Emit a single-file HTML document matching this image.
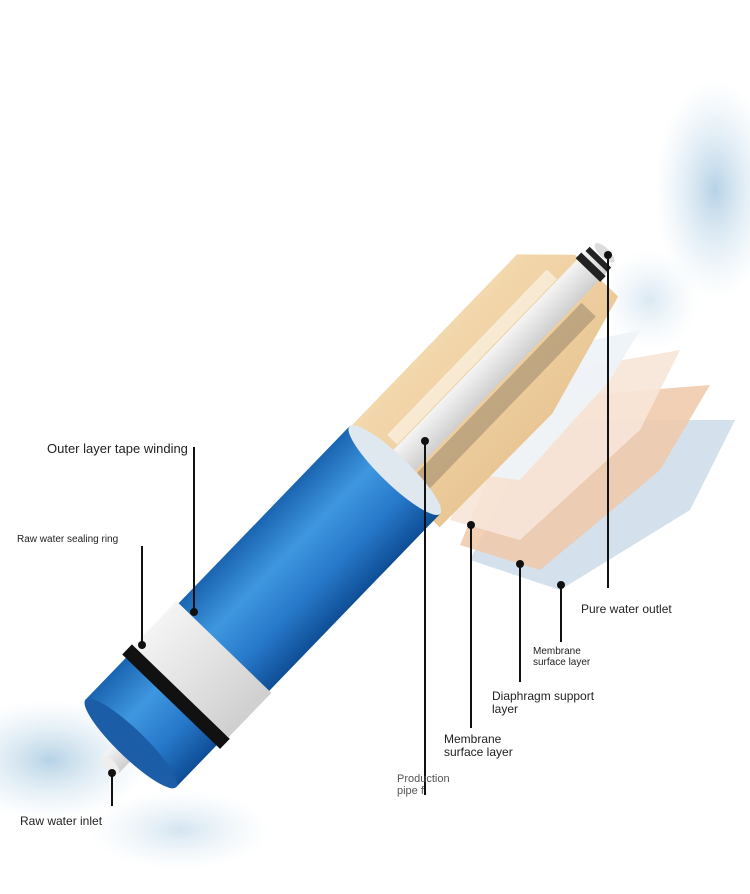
<!DOCTYPE html>
<html><head><meta charset="utf-8"><style>
html,body{margin:0;padding:0;background:#fff}
.t{position:absolute;font-family:"Liberation Sans",sans-serif;color:#222;line-height:1.05}
.g{color:#555}
</style></head><body>
<div style="position:relative;width:750px;height:894px;overflow:hidden">
<svg width="750" height="894" style="position:absolute;left:0;top:0">
<defs>
<linearGradient id="blue" x1="0" y1="0" x2="0" y2="1">
<stop offset="0" stop-color="#1a64b0"/><stop offset="0.35" stop-color="#3f97e0"/><stop offset="0.7" stop-color="#2677c8"/><stop offset="1" stop-color="#0f4e96"/></linearGradient>
<linearGradient id="tan" x1="0" y1="0" x2="0" y2="1">
<stop offset="0" stop-color="#f3d8ad"/><stop offset="1" stop-color="#e9c694"/></linearGradient>
<linearGradient id="wp" x1="0" y1="0" x2="0" y2="1">
<stop offset="0" stop-color="#f4f4f4"/><stop offset="0.5" stop-color="#e2e2e2"/><stop offset="1" stop-color="#cfcfcf"/></linearGradient>
<radialGradient id="spl" cx="0.5" cy="0.5" r="0.5">
<stop offset="0" stop-color="#4a8fc0" stop-opacity="0.4"/><stop offset="1" stop-color="#9cc6e2" stop-opacity="0"/></radialGradient>
</defs>
<ellipse cx="715" cy="190" rx="60" ry="110" fill="url(#spl)"/>
<ellipse cx="650" cy="300" rx="50" ry="50" fill="url(#spl)" opacity="0.5"/>
<ellipse cx="50" cy="760" rx="100" ry="60" fill="url(#spl)"/>
<ellipse cx="180" cy="830" rx="90" ry="40" fill="url(#spl)" opacity="0.6"/>
<polygon points="540,420 735,420 690,510 560,590 470,560" fill="#c9d8e6" opacity="0.8"/>
<polygon points="520,400 710,385 660,470 540,570 460,545" fill="#f0c8a8" opacity="0.85"/>
<polygon points="510,380 680,350 640,430 520,540 450,520" fill="#f7e6d8" opacity="0.9"/>
<polygon points="500,360 640,330 610,380 520,480 440,470" fill="#eef3f8" opacity="0.95"/>
<g transform="translate(110,765) rotate(-46)">
<polygon points="400,-62 650,-62 690,-20 690,40 560,74 400,72" fill="url(#tan)"/>
<rect x="400" y="18" width="260" height="20" fill="#8a7a60" opacity="0.45"/>
<rect x="430" y="-30" width="230" height="14" fill="#fff" opacity="0.5"/>
<rect x="380" y="-15" width="320" height="30" fill="url(#wp)"/>
<rect x="688" y="-17" width="8" height="34" fill="#222"/>
<rect x="700" y="-15" width="6" height="30" fill="#222"/>
<ellipse cx="712" cy="0" rx="5" ry="13" fill="#ddd"/>
<rect x="0" y="-12" width="40" height="24" fill="url(#wp)"/>
<ellipse cx="0" cy="0" rx="5" ry="12" fill="#eee"/>
<rect x="30" y="-63" width="380" height="126" fill="url(#blue)"/>
<ellipse cx="30" cy="0" rx="14" ry="63" fill="#1b5da6"/>
<ellipse cx="410" cy="0" rx="14" ry="63" fill="#dfe8ee"/>
<rect x="88" y="-68" width="14" height="136" fill="#111"/>
<rect x="102" y="-66" width="62" height="132" fill="url(#wp)"/>
</g>
<g stroke="#111" stroke-width="2">
<line x1="194" y1="447" x2="194" y2="612"/>
<line x1="142" y1="546" x2="142" y2="645"/>
<line x1="112" y1="772" x2="112" y2="806"/>
<line x1="425" y1="441" x2="425" y2="795"/>
<line x1="471" y1="525" x2="471" y2="728"/>
<line x1="520" y1="564" x2="520" y2="682"/>
<line x1="561" y1="585" x2="561" y2="642"/>
<line x1="608" y1="255" x2="608" y2="588"/>
</g>
<g fill="#111">
<circle cx="194" cy="612" r="4"/><circle cx="142" cy="645" r="4"/><circle cx="112" cy="773" r="4"/>
<circle cx="425" cy="441" r="4"/><circle cx="471" cy="525" r="4"/><circle cx="520" cy="564" r="4"/>
<circle cx="561" cy="585" r="4"/><circle cx="608" cy="255" r="4"/>
</g>
</svg>
<div class="t" style="left:47px;top:442px;font-size:13px">Outer layer tape winding</div>
<div class="t" style="left:17px;top:535px;font-size:10px">Raw water sealing ring</div>
<div class="t" style="left:20px;top:815px;font-size:12px">Raw water inlet</div>
<div class="t g" style="left:397px;top:774px;font-size:11px">Production<br>pipe f</div>
<div class="t" style="left:444px;top:733px;font-size:12px">Membrane<br>surface layer</div>
<div class="t" style="left:492px;top:690px;font-size:12px">Diaphragm support<br>layer</div>
<div class="t" style="left:533px;top:647px;font-size:10px">Membrane<br>surface layer</div>
<div class="t" style="left:581px;top:603px;font-size:12px">Pure water outlet</div>
</div>
</body></html>
